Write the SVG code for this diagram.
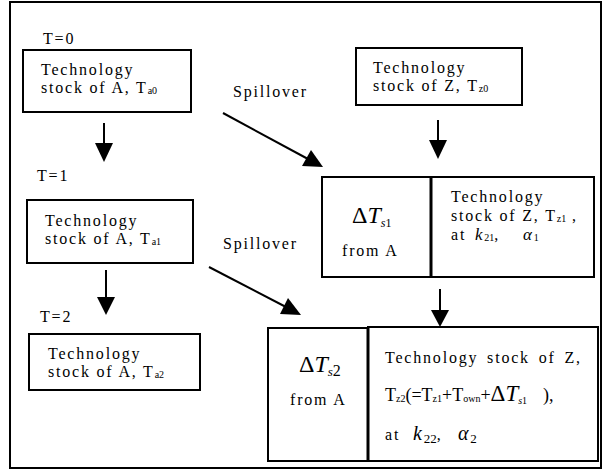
<svg xmlns="http://www.w3.org/2000/svg" width="610" height="475" viewBox="0 0 610 475" font-family="'Liberation Serif', 'Times New Roman', serif">
<style>
.bx{fill:#fff;stroke:#000;stroke-width:2}
text{font-family:'Liberation Serif','DejaVu Serif',serif}
.t{font-size:16px;letter-spacing:1.8px;fill:#000}
.sub{font-size:10px;letter-spacing:0}
.big{font-size:24px;letter-spacing:0}
.it{font-style:italic}
.ln{stroke:#000;stroke-width:2;fill:none}
.hd{fill:#000}
</style>
<rect x="0" y="0" width="610" height="475" fill="#fff"/>
<rect id="frame" x="10" y="2" width="591" height="466" fill="none" stroke="#000" stroke-width="2"/>

<g id="labels">
<text class="t" x="43" y="44">T=0</text>
<text class="t" x="37" y="181">T=1</text>
<text class="t" x="40" y="322">T=2</text>
<text class="t" x="233" y="97">Spillover</text>
<text class="t" x="223" y="249">Spillover</text>
</g>

<g id="nodeA0">
<rect class="bx" x="23" y="50" width="168" height="62"/>
<text class="t"><tspan x="41" y="75">Technology</tspan><tspan x="41" y="93">stock of A, T</tspan><tspan class="sub" dy="1">a0</tspan></text>
</g>

<g id="nodeA1">
<rect class="bx" x="27" y="200" width="166" height="63"/>
<text class="t"><tspan x="45" y="226">Technology</tspan><tspan x="45" y="244">stock of A, T</tspan><tspan class="sub" dy="1">a1</tspan></text>
</g>

<g id="nodeA2">
<rect class="bx" x="29" y="334" width="171" height="56"/>
<text class="t"><tspan x="48" y="359">Technology</tspan><tspan x="48" y="377">stock of A, T</tspan><tspan class="sub" dy="1">a2</tspan></text>
</g>

<g id="nodeZ0">
<rect class="bx" x="356" y="48" width="166" height="57"/>
<text class="t"><tspan x="373" y="73">Technology</tspan><tspan x="373" y="91">stock of Z, T</tspan><tspan class="sub" dy="1">z0</tspan></text>
</g>

<g id="nodeZ1">
<rect class="bx" x="322" y="177" width="109" height="100"/>
<rect class="bx" x="431" y="177" width="163" height="100"/>
<line x1="431" y1="177" x2="431" y2="277" stroke="#000" stroke-width="3"/>
<text class="t big" x="352" y="223">Δ<tspan class="it">T</tspan><tspan class="it" font-size="12" dy="4">s</tspan><tspan font-size="12">1</tspan></text>
<text class="t" x="342" y="256">from A</text>
<text class="t"><tspan x="451" y="202">Technology</tspan><tspan x="451" y="221">stock of Z, T</tspan><tspan class="sub" dy="1">z1</tspan><tspan dy="-1"> ,</tspan><tspan x="451" y="240">at</tspan><tspan class="it" font-size="17" x="475" y="240">k</tspan><tspan font-size="10" dy="1" letter-spacing="0">21</tspan><tspan dy="-1">,</tspan><tspan class="it" font-size="17" x="523" y="240">α</tspan><tspan font-size="10" dy="1">1</tspan></text>
</g>

<g id="nodeZ2">
<rect class="bx" x="268" y="328" width="100" height="133"/>
<rect class="bx" x="368" y="327" width="230" height="134"/>
<line x1="368" y1="327" x2="368" y2="461" stroke="#000" stroke-width="3"/>
<text class="t big" x="299" y="372">Δ<tspan class="it">T</tspan><tspan class="it" font-size="13" dy="4">s</tspan><tspan font-size="16">2</tspan></text>
<text class="t" x="290" y="405">from A</text>
<text class="t" x="385" y="363" word-spacing="3">Technology stock of Z,</text>
<text class="t" x="385" y="401" style="font-size:18px;letter-spacing:0">T<tspan class="sub" dy="1">z2</tspan><tspan dy="-1">(=T</tspan><tspan class="sub" dy="1">z1</tspan><tspan dy="-1">+T</tspan><tspan class="sub" dy="1">own</tspan><tspan dy="-1">+</tspan><tspan font-size="23">Δ</tspan><tspan class="it" font-size="23">T</tspan><tspan class="it" font-size="10" dy="3">s</tspan><tspan font-size="10">1</tspan><tspan dy="-3" x="543">),</tspan></text>
<text class="t"><tspan x="385" y="440">at</tspan><tspan class="it" font-size="20" x="413" y="440">k</tspan><tspan font-size="13" dy="3" letter-spacing="0">22</tspan><tspan dy="-3">,</tspan><tspan class="it" font-size="20" x="458" y="440">α</tspan><tspan font-size="13" dy="3">2</tspan></text>
</g>

<g id="connectors">
<line class="ln" x1="104" y1="123" x2="104" y2="145"/>
<polygon class="hd" points="95,143 113,143 104,162"/>
<line class="ln" x1="106" y1="270" x2="106" y2="299"/>
<polygon class="hd" points="97,297 115,297 106,315"/>
<line class="ln" x1="438" y1="120" x2="438" y2="142"/>
<polygon class="hd" points="429,140 447,140 438,159"/>
<line class="ln" x1="440" y1="289" x2="440" y2="312"/>
<polygon class="hd" points="431,310 449,310 440,327"/>
<line class="ln" x1="223" y1="113" x2="308" y2="159"/>
<polygon class="hd" points="302,166 311,150 323,167"/>
<line class="ln" x1="209" y1="267" x2="286" y2="307"/>
<polygon class="hd" points="280,314 288,298 301,315"/>
</g>
</svg>
